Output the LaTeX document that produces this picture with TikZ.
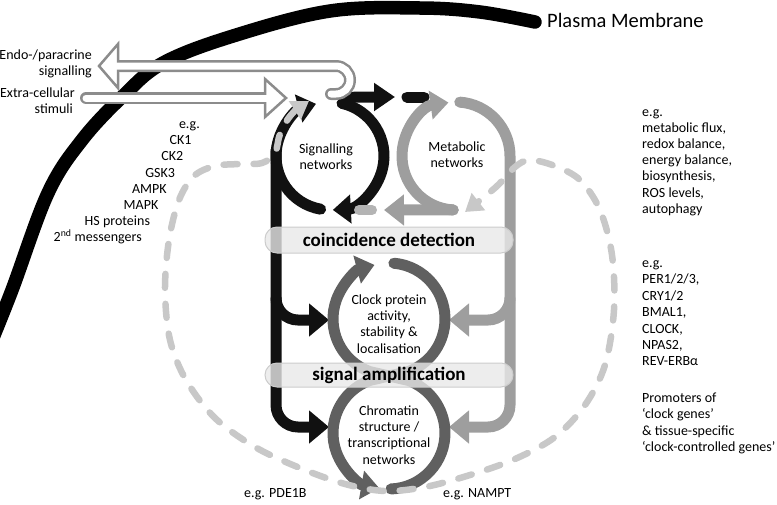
\documentclass[tikz,border=0pt]{standalone}
\usepackage{fontspec}
\setmainfont{Carlito}
\usepackage{tikz}
\usetikzlibrary{arrows.meta,calc}

\definecolor{sigblack}{HTML}{111111}
\definecolor{metgrey}{HTML}{9E9E9E}
\definecolor{clkgrey}{HTML}{606060}
\definecolor{dashgrey}{HTML}{C8C8C8}
\definecolor{midgrey}{HTML}{B4B4B4}
\definecolor{tubegrey}{HTML}{8C8C8C}
\definecolor{barfill}{HTML}{E8E8E8}
\definecolor{barline}{HTML}{CCCCCC}

\begin{document}
\begin{tikzpicture}[x=1pt, y=-1pt, line cap=round, every node/.style={font=\fontsize{14}{16.3}\selectfont, inner sep=0pt}]
        % Define styles
        \tikzstyle{membrane} = [line width=13.5pt, black]
        \tikzstyle{blackline} = [line width=11pt, sigblack]
        \tikzstyle{greyline} = [line width=11pt, metgrey]
        \tikzstyle{clockline} = [line width=11pt, clkgrey]
        \tikzstyle{dashloop} = [line width=6.5pt, dashgrey, dash pattern=on 14pt off 16pt]
        \tikzstyle{bigtip} = [-{Triangle[length=20pt, width=32pt]}]
        \tikzstyle{ringtip} = [-{Triangle[length=18pt, width=28pt]}]
        \tikzstyle{bar} = [draw=barline, line width=1pt, fill=barfill, fill opacity=0.8, text opacity=1, rounded corners=12pt, minimum width=248pt, font=\fontsize{19}{22}\selectfont\bfseries]
        \tikzstyle{tubeout} = [line width=12pt, tubegrey]
        \tikzstyle{tubein} = [line width=7pt, white]
        \tikzstyle{tubehead} = [draw=tubegrey, line width=2.5pt, fill=white, line join=miter]

        \useasboundingbox (0,0) rectangle (777,504);
        \clip (0,0) rectangle (777,504);

        % Plasma membrane
        \draw[membrane] plot[smooth, tension=0.6] coordinates {(-12,350) (12,290) (48,193) (82,140) (123,96) (163,63) (233,36) (330,11) (420,8) (480,12) (535,22)};
        \node[anchor=base west, font=\fontsize{20.5}{24}\selectfont] (pm) at (547,27) {Plasma Membrane};

        % Loop centres
        \coordinate (sig) at (330,156);
        \coordinate (met) at (456,156);
        \coordinate (clk) at (389,319);
        \coordinate (chr) at (389,433);

        % Trunks
        \draw[blackline, bigtip] (276,150) -- (276,405) arc (180:90:22) -- (329,427);
        \draw[blackline, bigtip] (276,298) arc (180:90:22) -- (329,320);
        \draw[greyline, bigtip] ($(met)+(274:54)$) arc (274:360:54) -- (510,405) arc (0:90:22) -- (449,427);
        \draw[greyline, bigtip] (510,298) arc (0:90:22) -- (449,320);

        % Signalling networks
        \draw[blackline, ringtip] ($(sig)+(283:54)$) arc (283:447:54);
        \draw[blackline, ringtip] ($(sig)+(100:54)$) arc (100:255:54);
        \draw[blackline, -{Triangle[length=21pt, width=27pt]}] ($(sig)+(283:54)$) .. controls (350,97) .. (362,97) -- (395,97);
        \draw[blackline] (407,97) -- (424,97);

        % Metabolic networks
        \draw[greyline, ringtip] ($(met)+(93:54)$) arc (93:262:54);
        \draw[greyline, -{Triangle[length=20pt, width=30pt]}] ($(met)+(93:54)$) -- (384,210);
        \draw[line width=10pt, midgrey] (359,210) -- (372,210);

        % Clock protein / chromatin figure of eight
        \draw[clockline, ringtip] ($(clk)+(275:56)$) arc (275:430:56) -- ($(chr)+(250:56)$) arc (250:100:56);
        \draw[clockline, ringtip] ($(chr)+(88:56)$) arc (88:-70:56) -- ($(clk)+(110:56)$) arc (110:255:56);

        % Tubes through the membrane
        \draw[tubeout] (120,66) -- (336,66) arc (270:450:14) -- (331,94);
        \draw[tubehead] (118,44) -- (99,66) -- (118,88) -- cycle;
        \draw[tubein] (114,66) -- (336,66) arc (270:450:14) -- (331,94);
        \draw[tubeout] (86,98) -- (267,98);
        \draw[tubehead] (265,79) -- (286,98) -- (265,117) -- cycle;
        \draw[tubein] (86,98) -- (269,98);

        % Dashed feedback loop
        \draw[dashloop, {Triangle[length=17pt, width=21pt]}-{Triangle[length=17pt, width=21pt]}] plot[smooth, tension=0.55] coordinates {(309,101) (291,115) (280,134) (275,153) (262,163) (240,164) (215,166) (194,176) (179,200) (169,240) (165,290) (170,340) (186,380) (215,418) (255,447) (300,468) (345,484) (385,491) (425,487) (470,475) (515,459) (555,437) (585,405) (605,365) (614,310) (612,255) (600,210) (580,180) (555,166) (530,160) (515,167) (496,187) (465,212)};

        % Bars
        \node[bar, minimum height=26pt] (coinc) at (389,240) {coincidence detection};
        \node[bar, minimum height=24pt] (ampl) at (389,375) {signal amplification};

        % Loop labels
        \node[align=center] (sigtxt) at (326,157) {Signalling\\networks};
        \node[align=center] (mettxt) at (457,155) {Metabolic\\networks};
        \node[align=center] (clktxt) at (389,324) {Clock protein\\activity,\\stability \&\\localisation};
        \node[align=center] (chrtxt) at (389,435) {Chromatin\\structure /\\transcriptional\\networks};

        % Explanations
        \node[anchor=base east] (endo) at (92,59) {Endo-/paracrine};
        \node[anchor=base east] (endo2) at (92,75) {signalling};
        \node[anchor=base east] (extra) at (75,97) {Extra-cellular};
        \node[anchor=base east] (extra2) at (73,113) {stimuli};
        \foreach \lbl [count=\i] in {e.g., CK1, CK2, GSK3, AMPK, MAPK, HS proteins, 2\textsuperscript{nd} messengers}
            \node[anchor=base east] (kin\i) at ({200-8.3*(\i-1)}, {128.5+16.2*(\i-1)}) {\lbl};
        \foreach \lbl [count=\i] in {e.g., {metabolic flux,}, {redox balance,}, {energy balance,}, {biosynthesis,}, {ROS levels,}, autophagy}
            \node[anchor=base west] (proc\i) at (642, {116+16.2*(\i-1)}) {\lbl};
        \foreach \lbl [count=\i] in {e.g., {PER1/2/3,}, {CRY1/2}, {BMAL1,}, {CLOCK,}, {NPAS2,}, REV-ERBα}
            \node[anchor=base west] (gene\i) at (642, {267.5+16.4*(\i-1)}) {\lbl};
        \foreach \lbl [count=\i] in {Promoters of, ‘clock genes’, \& tissue-specific, ‘clock-controlled genes’}
            \node[anchor=base west] (prom\i) at (642, {402+16.6*(\i-1)}) {\lbl};
        \node[anchor=base west] (pde) at (244,497) {e.g. PDE1B};
        \node[anchor=base west] (nampt) at (443,497) {e.g. NAMPT};

    \end{tikzpicture}
\end{document}
